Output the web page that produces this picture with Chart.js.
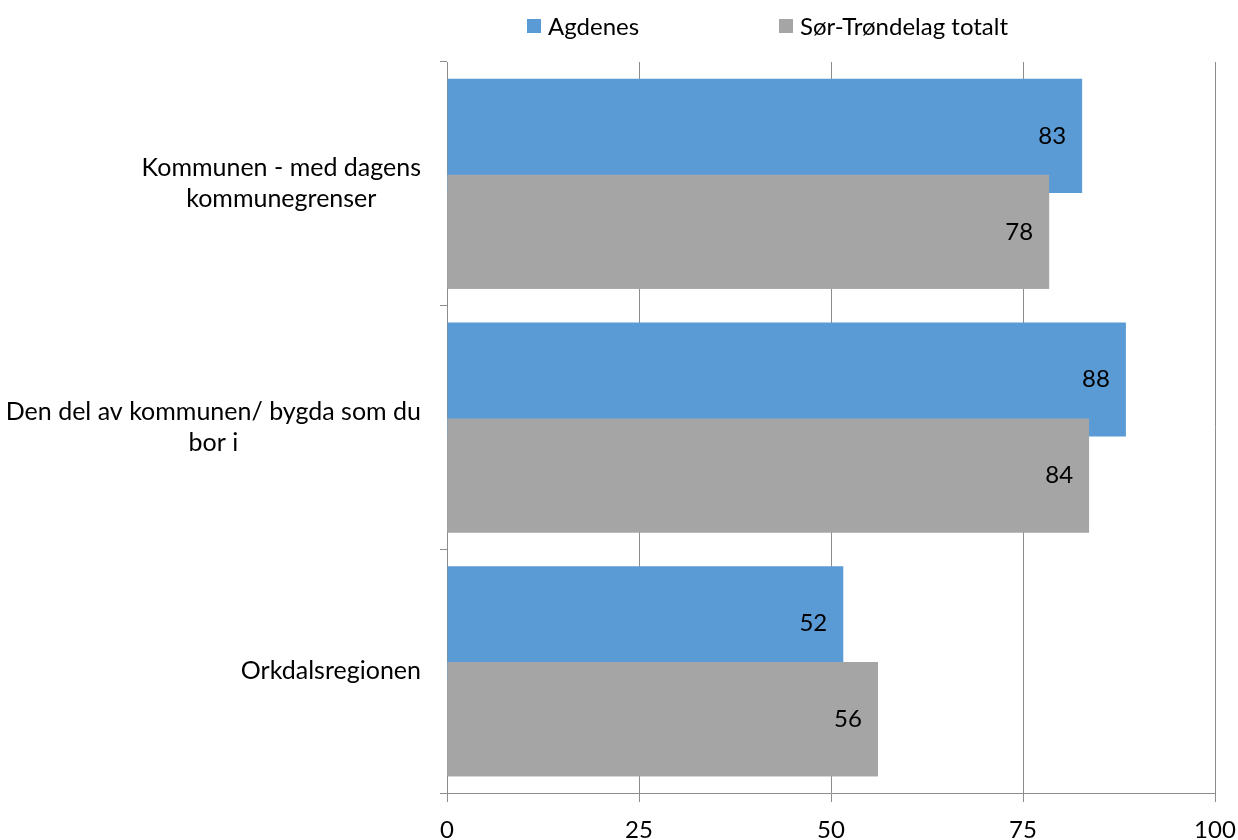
<!DOCTYPE html>
<html lang="no">
<head>
<meta charset="utf-8">
<title>Agdenes - tilhørighet</title>
<script src="https://cdn.jsdelivr.net/npm/chart.js@4.4.1/dist/chart.umd.min.js"></script>
<style>
    html, body { margin: 0; padding: 0; background: #fff; }
    .wrap { position: relative; width: 1238px; height: 840px; }
    .legend-item { position: absolute; top: 11px; display: flex; align-items: center; font-family: Lato, sans-serif; font-size: 24px; color: #000; white-space: nowrap; }
    .swatch { width: 14px; height: 14px; margin-right: 7px; }
</style>
</head>
<body>
<div class="wrap">
    <canvas id="chart"></canvas>
    <div id="legend"></div>
</div>
<script>
// ---- data ----
const categories = [
    ['Kommunen - med dagens', 'kommunegrenser'],
    ['Den del av kommunen/ bygda som du', 'bor i'],
    ['Orkdalsregionen']
];
const seriesNames = ['Agdenes', 'Sør-Trøndelag totalt'];
const agdenes = [82.7, 88.4, 51.6];
const sorTrondelag = [78.4, 83.6, 56.1];
const xTicks = [0, 25, 50, 75, 100];

const colors = ['#5B9BD5', '#A5A5A5'];
const legendLeft = [527, 779];
const FONT = 'Lato, sans-serif';
const axisGray = '#8c8c8c';

// legend (html)
document.getElementById('legend').innerHTML = seriesNames.map((n, i) => `
    <div class="legend-item" style="left:${legendLeft[i]}px"><span class="swatch" style="background:${colors[i]}"></span>${n}</div>
`).join('');

// gray series sits on top of the blue one where they overlap,
// then value labels and category labels are drawn
const overlayPlugin = {
    id: 'overlay',
    afterDatasetsDraw(chart) {
        const ctx = chart.ctx;
        chart.getDatasetMeta(1).controller.draw();

        ctx.save();
        ctx.font = `24px ${FONT}`;
        ctx.fillStyle = '#000';
        ctx.textAlign = 'right';
        ctx.textBaseline = 'middle';
        chart.data.datasets.forEach((ds, di) => {
            chart.getDatasetMeta(di).data.forEach((bar, i) => {
                ctx.fillText(Math.round(ds.data[i]), bar.x - 16, bar.y);
            });
        });

        // category labels: block right aligned, lines centred
        ctx.font = `25px ${FONT}`;
        const yScale = chart.scales.y;
        const rightEdge = chart.chartArea.left - 26;
        const lineH = 31;
        ctx.textAlign = 'center';
        chart.data.labels.forEach((lines, i) => {
            const w = Math.max(...lines.map(l => ctx.measureText(l).width));
            const cx = rightEdge - w / 2;
            const cy = yScale.getPixelForValue(i);
            const top = cy - (lines.length - 1) * lineH / 2;
            lines.forEach((l, k) => ctx.fillText(l, cx, top + k * lineH));
        });
        ctx.restore();
    }
};

new Chart(document.getElementById('chart'), {
    type: 'bar',
    data: {
        labels: categories,
        datasets: [
            { label: seriesNames[0], data: agdenes, backgroundColor: colors[0] },
            { label: seriesNames[1], data: sorTrondelag, backgroundColor: colors[1] }
        ]
    },
    options: {
        indexAxis: 'y',
        responsive: true,
        maintainAspectRatio: false,
        animation: false,
        categoryPercentage: 0.787,
        barPercentage: 1.19,
        layout: { padding: { top: 62, right: 23, left: 0, bottom: 0 } },
        plugins: {
            legend: { display: false },
            tooltip: { enabled: false }
        },
        scales: {
            x: {
                min: 0,
                max: 100,
                afterBuildTicks: s => { s.ticks = xTicks.map(v => ({ value: v })); },
                afterFit: s => { s.height = 47; s.paddingRight = 0; s.paddingLeft = 0; },
                grid: { color: axisGray, tickLength: 9, lineWidth: 1 },
                border: { color: axisGray },
                ticks: { color: '#000', padding: 14, font: { family: FONT, size: 24 } }
            },
            y: {
                afterFit: s => { s.width = 447; },
                grid: { color: axisGray, drawOnChartArea: false, tickLength: 7, offset: true },
                border: { color: axisGray },
                ticks: { display: false }
            }
        }
    },
    plugins: [overlayPlugin]
});
</script>
</body>
</html>
